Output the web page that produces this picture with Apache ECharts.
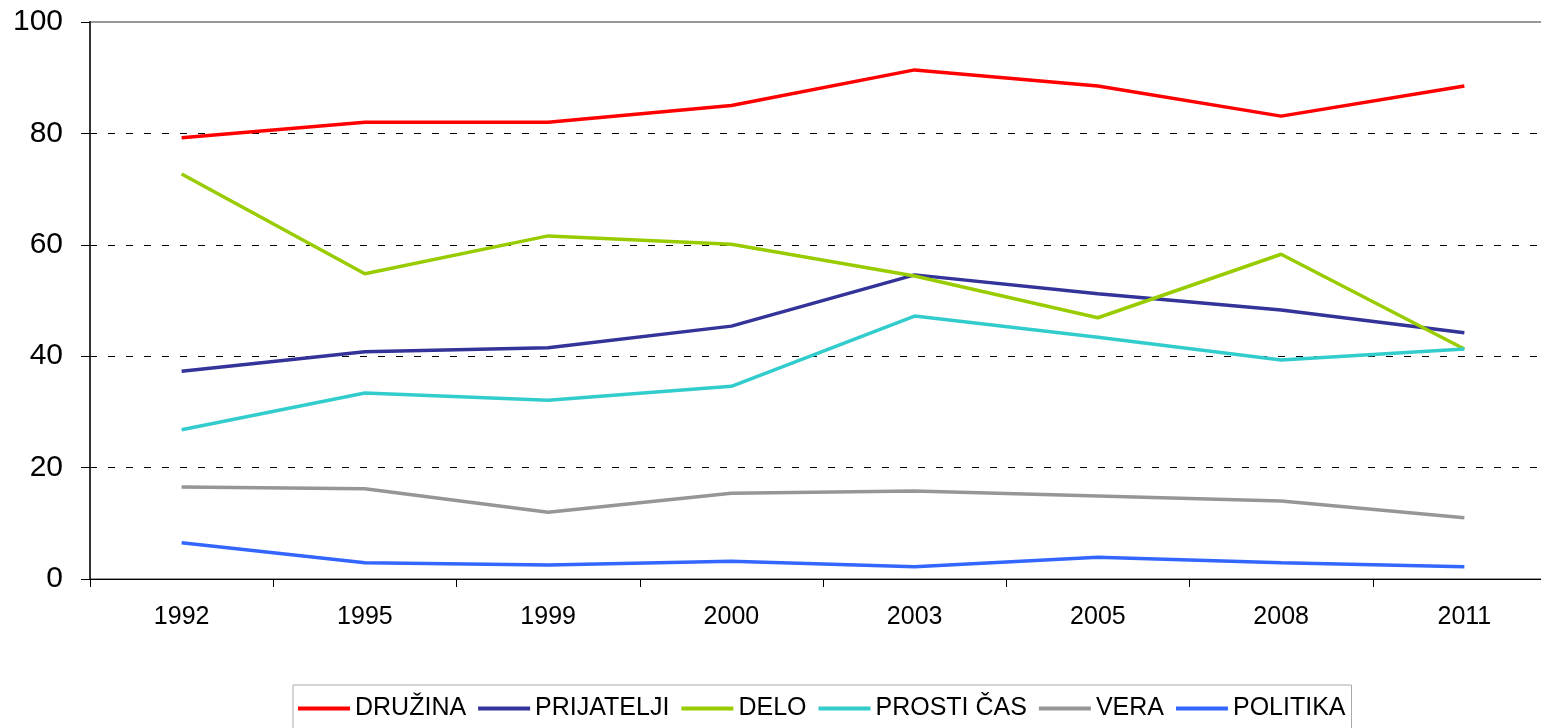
<!DOCTYPE html>
<html>
<head>
<meta charset="utf-8">
<script src="https://cdn.jsdelivr.net/npm/echarts@6/dist/echarts.min.js"></script>
<style>
  html, body { margin: 0; padding: 0; background: #fff; overflow: hidden; }
  #main { width: 1556px; height: 728px; }
</style>
</head>
<body>
<div id="main"></div>
<script>
const years = ['1992', '1995', '1999', '2000', '2003', '2005', '2008', '2011'];
const druzina = [79.2, 82.0, 82.0, 85.0, 91.4, 88.5, 83.1, 88.5];
const prijatelji = [37.3, 40.8, 41.5, 45.4, 54.6, 51.2, 48.3, 44.2];
const delo = [72.7, 54.8, 61.6, 60.1, 54.4, 46.9, 58.3, 41.3];
const prostiCas = [26.8, 33.4, 32.1, 34.6, 47.2, 43.4, 39.3, 41.3];
const vera = [16.5, 16.2, 12.0, 15.4, 15.8, 14.9, 14.0, 11.0];
const politika = [6.5, 2.9, 2.5, 3.2, 2.2, 3.9, 2.9, 2.2];

const seriesDefs = [
  { name: 'DRUŽINA', data: druzina, color: '#FF0000' },
  { name: 'PRIJATELJI', data: prijatelji, color: '#333399' },
  { name: 'DELO', data: delo, color: '#99CC00' },
  { name: 'PROSTI ČAS', data: prostiCas, color: '#33CCCC' },
  { name: 'VERA', data: vera, color: '#969696' },
  { name: 'POLITIKA', data: politika, color: '#3366FF' }
];

window.onload = function () {
  const chartDom = document.getElementById('main');
  const myChart = echarts.init(chartDom);
  const font = 'Liberation Sans, Arial, sans-serif';

  const option = {
    animation: false,
    textStyle: { fontFamily: font },
    color: seriesDefs.map(s => s.color),
    grid: {
      left: 90, top: 22, right: 0, bottom: 149,
      show: true, borderColor: '#999', borderWidth: 2, backgroundColor: 'transparent'
    },
    legend: {
      left: 293, top: 685,
      orient: 'horizontal',
      icon: 'rect',
      itemWidth: 52, itemHeight: 4,
      itemGap: 12,
      padding: [11, 6, 12, 5],
      borderColor: '#aaa', borderWidth: 1,
      textStyle: { fontSize: 25, color: '#000', fontFamily: font },
      data: seriesDefs.map(s => s.name)
    },
    xAxis: {
      type: 'category',
      data: years,
      boundaryGap: true,
      axisLine: { lineStyle: { color: '#000', width: 1 } },
      axisTick: { show: true, length: 8, lineStyle: { color: '#000' } },
      axisLabel: { fontSize: 25, color: '#000', margin: 26, fontFamily: font },
      splitLine: { show: false }
    },
    yAxis: {
      type: 'value',
      min: 0, max: 100, interval: 20,
      axisLine: { show: true, lineStyle: { color: '#333', width: 2 } },
      axisTick: { show: true, length: 9, lineStyle: { color: '#000' } },
      axisLabel: { fontSize: 30, color: '#000', margin: 27, fontFamily: font },
      splitLine: {
        show: true,
        lineStyle: {
          color: ['#000', '#000', '#000', '#000', '#000', 'transparent'],
          type: [7, 11], width: 1
        }
      }
    },
    series: seriesDefs.map(s => ({
      name: s.name,
      type: 'line',
      data: s.data,
      symbol: 'none',
      lineStyle: { width: 3.5, color: s.color },
      itemStyle: { color: s.color }
    }))
  };

  option && myChart.setOption(option);
};
</script>
</body>
</html>
